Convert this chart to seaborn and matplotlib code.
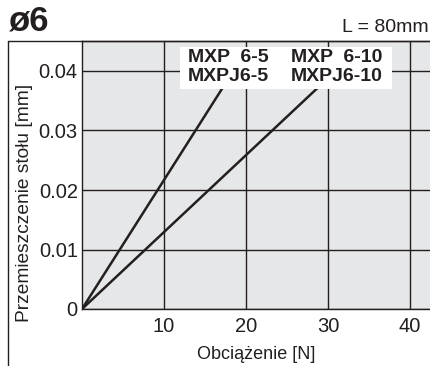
import matplotlib
matplotlib.use("Agg")
import matplotlib.pyplot as plt
import seaborn as sns
import pandas as pd
from matplotlib.lines import Line2D
from matplotlib.patches import Rectangle

# Data
series = ["MXP 6-5 / MXPJ6-5", "MXP 6-10 / MXPJ6-10"]
load_n = [[0, 17.3], [0, 29.0]]
displacement_mm = [[0, 0.0375], [0, 0.0375]]
x_ticks = [10, 20, 30, 40]
y_ticks = [0, 0.01, 0.02, 0.03, 0.04]
y_tick_labels = ["0", "0.01", "0.02", "0.03", "0.04"]

rows = []
for s, xs, ys in zip(series, load_n, displacement_mm):
    for x, y in zip(xs, ys):
        rows.append({"series": s, "load": x, "disp": y})
df = pd.DataFrame(rows)

sns.set_theme(style="white")
plt.rcParams['font.family'] = ['Liberation Sans', 'DejaVu Sans']

W, H = 430, 366
fig = plt.figure(figsize=(W / 100, H / 100), dpi=100)
L, R, B, T = 82, 430, 309, 41
ax = fig.add_axes([L / W, (H - B) / H, (R - L) / W, (B - T) / H])
ax.set_facecolor("#e6e7e8")

sns.lineplot(data=df, x="load", y="disp", units="series", estimator=None,
             color="#231f20", lw=1.8, ax=ax, legend=False)

ax.set_xlim(0, (R - L) / 8.2)
ax.set_ylim(0, (B - T) / 5950)
ax.set_xticks(x_ticks)
ax.set_xticklabels([str(v) for v in x_ticks], fontsize=14.5)
ax.set_yticks(y_ticks)
ax.set_yticklabels(y_tick_labels, fontsize=14.5)
ax.tick_params(axis="y", length=0, pad=3, colors="#231f20")
ax.tick_params(axis="x", length=0, pad=6, colors="#231f20")
ax.grid(True, color="#231f20", lw=1.0)
ax.set_axisbelow(True)
ax.spines["right"].set_visible(False)
for sp in ["left", "bottom", "top"]:
    ax.spines[sp].set_color("#231f20")
    ax.spines[sp].set_linewidth(1.0)

ax.set_xlabel("Obciążenie [N]", fontsize=13, color="#231f20", labelpad=7)
ax.set_ylabel("Przemieszczenie stołu [mm]", fontsize=13.8, color="#231f20")
ax.yaxis.set_label_coords(-0.141, 0.396)

# White backing behind labels
ax.add_patch(Rectangle((11.95, 0.0370), 25.85, 0.0071, facecolor="white",
                       edgecolor="none", zorder=2))
lbl_kw = dict(ha="center", va="center", fontsize=14, fontweight="bold",
              color="#231f20", linespacing=1.15, zorder=3)
ax.text(17.8, 0.04067, "MXP  6-5\nMXPJ6-5", **lbl_kw)
ax.text(31.0, 0.04067, "MXP  6-10\nMXPJ6-10", **lbl_kw)

# Outer frame lines
fig.add_artist(Line2D([8 / W, 1], [(H - 41) / H, (H - 41) / H], color="#231f20", lw=1.0))
fig.add_artist(Line2D([8 / W, 8 / W], [0, (H - 41) / H], color="#231f20", lw=1.0))

fig.text(9 / W, (H - 21) / H, "ø6", fontsize=25, fontweight="bold", va="center", ha="left", color="#231f20")
fig.text(429 / W, (H - 28) / H, "L = 80mm", fontsize=14, va="center", ha="right", color="#231f20")

fig.savefig("out.png", dpi=100)
